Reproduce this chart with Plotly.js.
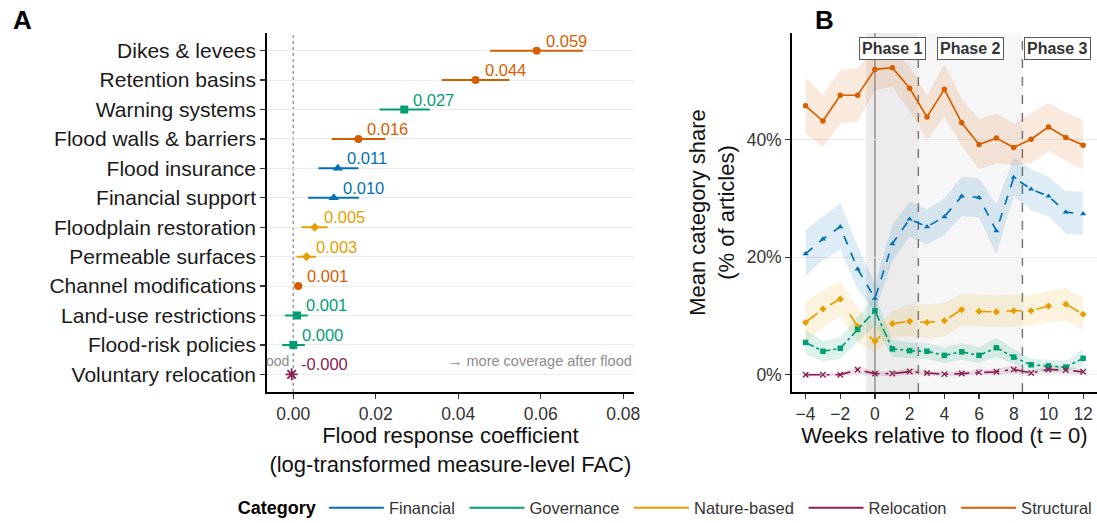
<!DOCTYPE html>
<html>
<head>
<meta charset="utf-8">
<script src="https://cdn.plot.ly/plotly-3.0.1.min.js"></script>
<style>html,body{margin:0;padding:0;background:#fff;} #chart{width:1097px;height:523px;}</style>
</head>
<body>
<div id="chart"></div>
<script>
// ---------- Panel A data ----------
const measures = ['Dikes & levees','Retention basins','Warning systems','Flood walls & barriers','Flood insurance','Financial support','Floodplain restoration','Permeable surfaces','Channel modifications','Land-use restrictions','Flood-risk policies','Voluntary relocation'];
const measureCategory = ['Structural','Structural','Governance','Structural','Financial','Financial','Nature-based','Nature-based','Structural','Governance','Governance','Relocation'];
const coef   = [0.0590,0.0442,0.0269,0.0158,0.0108,0.0098,0.0052,0.0032,0.0012,0.0009,0.0000,-0.0004];
const ciLow  = [0.0477,0.0360,0.0209,0.0093,0.0061,0.0036,0.0020,0.0008,0.0002,-0.0020,-0.0027,-0.0008];
const ciHigh = [0.0702,0.0524,0.0331,0.0223,0.0158,0.0159,0.0083,0.0055,0.0022,0.0035,0.0028,0.0000];
const xTicksA = [0, 0.02, 0.04, 0.06, 0.08];
const hintAfter = '→ more coverage after flood';
const hintBeforeVisible = 'ood';   // only the end of the left hint is visible inside the panel

// ---------- Panel B data ----------
const weeks = [-4,-3,-2,-1,0,1,2,3,4,5,6,7,8,9,10,11,12];
const structuralMean  = [45.8,43.2,47.6,47.6,52.0,52.3,48.8,43.9,48.6,42.9,39.2,40.3,38.7,40.1,42.2,40.4,39.1];
const structuralLow   = [41.1,38.7,42.8,43.1,48.5,49.0,45.0,40.0,44.0,39.0,35.0,36.0,35.7,36.0,38.0,36.5,34.9];
const structuralHigh  = [50.6,47.7,51.9,52.2,55.5,55.5,52.5,47.5,53.0,47.0,43.5,44.5,42.8,44.5,46.3,44.7,43.4];
const financialMean   = [20.6,23.1,25.2,18.0,13.0,22.3,26.5,25.2,26.9,30.4,30.2,24.5,33.6,31.6,30.4,27.7,27.4];
const financialLow    = [16.8,19.5,21.3,14.5,10.7,19.3,23.5,22.2,23.8,27.0,26.8,20.5,30.5,28.0,27.0,24.0,23.8];
const financialHigh   = [24.7,27.0,29.2,22.0,15.5,25.5,29.5,28.2,30.0,33.7,33.5,29.0,37.0,35.0,33.8,31.3,31.2];
const natureMean      = [8.9,11.2,12.9,8.2,5.7,8.7,9.1,8.9,9.2,11.1,10.8,10.7,10.9,10.9,11.7,12.0,10.3];
const natureLow       = [5.5,8.0,10.0,5.5,3.8,6.5,6.5,6.2,6.5,8.4,8.2,8.1,8.2,8.3,9.0,9.2,7.6];
const natureHigh      = [12.5,14.5,15.8,11.5,7.8,10.8,12.0,12.0,12.2,13.8,13.6,13.5,13.6,13.6,14.3,14.8,13.0];
const governanceMean  = [5.5,4.0,4.5,7.7,10.9,4.4,4.1,4.0,3.3,3.9,3.3,4.6,3.0,1.7,1.5,1.3,2.8];
const governanceLow   = [3.5,2.3,2.7,5.5,8.4,3.0,2.8,2.7,2.0,2.5,2.0,3.0,1.8,0.7,0.5,0.4,1.5];
const governanceHigh  = [7.6,5.8,6.4,10.0,13.4,5.9,5.5,5.4,4.7,5.4,4.7,6.3,4.4,2.8,2.6,2.3,4.4];
const relocationMean  = [0.0,0.0,0.0,0.85,0.2,0.2,0.55,0.3,0.1,0.2,0.4,0.5,0.9,0.3,0.9,0.8,0.5];
const relocationLow   = [-0.3,-0.3,-0.3,0.2,-0.2,-0.2,0.0,-0.1,-0.3,-0.2,0.0,0.0,0.2,-0.1,0.3,0.2,0.0];
const relocationHigh  = [0.3,0.3,0.3,1.5,0.6,0.6,1.1,0.7,0.5,0.6,0.8,1.0,1.6,0.7,1.5,1.4,1.0];
const yTicksB = [0, 20, 40];
const yTickLabelsB = ['0%', '20%', '40%'];
const xTicksB = [-4,-2,0,2,4,6,8,10,12];
const phaseNames = ['Phase 1','Phase 2','Phase 3'];
const phaseCenters = [1, 5.5, 10.5];

const categoryOrder = ['Financial','Governance','Nature-based','Relocation','Structural'];
const colors = {'Financial':'#0072B2','Governance':'#009E73','Nature-based':'#E69F00','Relocation':'#882255','Structural':'#D55E00'};
const symbolsA = {'Financial':'triangle-up','Governance':'square','Nature-based':'diamond','Relocation':'asterisk-open','Structural':'circle'};
const sizesA = {'Financial':9,'Governance':8,'Nature-based':7,'Relocation':10,'Structural':8};
const symbolsB = {'Financial':'triangle-up','Governance':'square','Nature-based':'diamond','Relocation':'x-thin-open','Structural':'circle'};
const dashes = {'Financial':'dash','Governance':'dashdot','Nature-based':'longdash','Relocation':'longdashdot','Structural':'solid'};
const series = {
  'Structural':[structuralMean,structuralLow,structuralHigh],
  'Financial':[financialMean,financialLow,financialHigh],
  'Nature-based':[natureMean,natureLow,natureHigh],
  'Governance':[governanceMean,governanceLow,governanceHigh],
  'Relocation':[relocationMean,relocationLow,relocationHigh]
};
const drawOrderB = ['Structural','Financial','Nature-based','Governance','Relocation'];

function hexA(hex,a){const r=parseInt(hex.slice(1,3),16),g=parseInt(hex.slice(3,5),16),b=parseInt(hex.slice(5,7),16);return `rgba(${r},${g},${b},${a})`;}

const FONT = 'Liberation Sans, Arial, sans-serif';
const nRows = measures.length;
const rowPos = measures.map((m,i)=>nRows - i);

const traces = [];
const annotations = [];

// Panel A: points with CIs by category
categoryOrder.forEach(cat=>{
  const idx = measures.map((m,i)=>i).filter(i=>measureCategory[i]===cat);
  traces.push({
    type:'scatter', mode:'markers', xaxis:'x', yaxis:'y', showlegend:false,
    x: idx.map(i=>coef[i]), y: idx.map(i=>rowPos[i]),
    marker:{color:colors[cat], symbol:symbolsA[cat], size:sizesA[cat], line:{color:colors[cat], width: cat==='Relocation'?1.8:0}},
    error_x:{type:'data', symmetric:false, array: idx.map(i=>ciHigh[i]-coef[i]), arrayminus: idx.map(i=>coef[i]-ciLow[i]), color:colors[cat], thickness:2, width:0},
    cliponaxis:false, hoverinfo:'skip'
  });
});
measures.forEach((m,i)=>{
  annotations.push({xref:'x', yref:'y', x:coef[i], y:rowPos[i], text:coef[i].toFixed(3), showarrow:false,
    xanchor:'left', yanchor:'middle', xshift:7, yshift:10, font:{family:FONT, size:16.5, color:colors[measureCategory[i]]}});
});
// direction hints
annotations.push({xref:'x domain', yref:'y', x:0, y:1.45, xanchor:'left', yanchor:'middle', showarrow:false, xshift:-3,
  text:hintBeforeVisible, font:{family:FONT, size:14, color:'#8c8c8c'}});
annotations.push({xref:'x domain', yref:'y', x:1, y:1.45, xanchor:'right', yanchor:'middle', showarrow:false,
  text:hintAfter, font:{family:FONT, size:14.5, color:'#8c8c8c'}});

// Panel B ribbons then lines
drawOrderB.forEach(cat=>{
  const [mean,lo,hi] = series[cat];
  traces.push({type:'scatter', mode:'lines', xaxis:'x2', yaxis:'y2', showlegend:false,
    x: weeks.concat(weeks.slice().reverse()), y: hi.concat(lo.slice().reverse()),
    fill:'toself', fillcolor:hexA(colors[cat],0.13), line:{width:0}, hoverinfo:'skip'});
});
drawOrderB.forEach(cat=>{
  const [mean] = series[cat];
  traces.push({type:'scatter', mode:'lines+markers', xaxis:'x2', yaxis:'y2', showlegend:false,
    x: weeks, y: mean, line:{color:colors[cat], width:1.7, dash:dashes[cat]},
    marker:{color:colors[cat], symbol:symbolsB[cat], size:5.5, line:{color:colors[cat], width: cat==='Relocation'?1.3:0}},
    cliponaxis:false});
});
// Legend entries
categoryOrder.forEach((cat,k)=>{
  traces.push({type:'scatter', mode:'lines', x:[null], y:[null], xaxis:'x2', yaxis:'y2',
    name: k < categoryOrder.length-1 ? cat+'\u00a0' : cat,
    line:{color:colors[cat], width:2}, showlegend:true, hoverinfo:'skip'});
});

// Phase labels
phaseNames.forEach((p,i)=>{
  annotations.push({xref:'x2', yref:'y2', x:phaseCenters[i], y:55.6, text:'<b>'+p+'</b>', showarrow:false,
    bgcolor:'#ffffff', bordercolor:'#5a5a5a', borderwidth:1, borderpad:2,
    font:{family:FONT, size:16, color:'#333333'}});
});
// Panel letters
annotations.push({xref:'paper', yref:'paper', x:0.010, y:0.995, xanchor:'left', yanchor:'top', showarrow:false, text:'<b>A</b>', font:{family:FONT, size:26, color:'#000'}});
annotations.push({xref:'paper', yref:'paper', x:0.741, y:0.995, xanchor:'left', yanchor:'top', showarrow:false, text:'<b>B</b>', font:{family:FONT, size:26, color:'#000'}});

const shapes = [
  {type:'line', xref:'x', yref:'y domain', x0:0, x1:0, y0:0, y1:1, line:{color:'#9a9a9a', width:1.5, dash:'dot'}, layer:'below'},
  {type:'rect', xref:'x2', yref:'y2 domain', x0:2.5, x1:8.5, y0:0, y1:1, fillcolor:'#f6f6f6', line:{width:0}, layer:'below'},
  {type:'rect', xref:'x2', yref:'y2 domain', x0:-0.5, x1:2.5, y0:0, y1:1, fillcolor:'#ececec', line:{width:0}, layer:'below'},
  {type:'line', xref:'x2', yref:'y2 domain', x0:0, x1:0, y0:0, y1:1, line:{color:'#666666', width:1}, layer:'below'},
  {type:'line', xref:'x2', yref:'y2 domain', x0:2.5, x1:2.5, y0:0, y1:1, line:{color:'#777777', width:1.5, dash:'dash'}, layer:'below'},
  {type:'line', xref:'x2', yref:'y2 domain', x0:8.5, x1:8.5, y0:0, y1:1, line:{color:'#777777', width:1.5, dash:'dash'}, layer:'below'}
];

const yDom = [1-392/523, 1-33/523];
const axisCommon = {showline:true, linecolor:'#000', linewidth:1.5, ticks:'outside', ticklen:5, tickcolor:'#333', tickwidth:1.2, zeroline:false};

const layout = {
  width:1097, height:523, margin:{l:0,r:0,t:0,b:0, autoexpand:false}, paper_bgcolor:'#fff', plot_bgcolor:'rgba(0,0,0,0)',
  font:{family:FONT, color:'#000'},
  xaxis:Object.assign({}, axisCommon, {domain:[266.7/1097, 634/1097], range:[-0.00645,0.0826], tickvals:xTicksA, tickformat:'.2f',
    showgrid:false, tickfont:{size:17.5,color:'#333'},
    title:{text:'Flood response coefficient<br>(log-transformed measure-level FAC)', font:{size:22,color:'#111'}, standoff:4}}),
  yaxis:Object.assign({}, axisCommon, {domain:yDom, range:[0.4, nRows+0.6], tickvals:rowPos, ticktext:measures,
    showgrid:true, gridcolor:'#ebebeb', gridwidth:1, tickfont:{size:21,color:'#1a1a1a'}}),
  xaxis2:Object.assign({}, axisCommon, {domain:[791.7/1097, 1], range:[-4.8,12.8], tickvals:xTicksB, anchor:'y2',
    showgrid:false, tickfont:{size:17.5,color:'#333'},
    title:{text:'Weeks relative to flood (t = 0)', font:{size:22,color:'#111'}, standoff:2}}),
  yaxis2:Object.assign({}, axisCommon, {domain:yDom, range:[-2.94,58.2], tickvals:yTicksB, ticktext:yTickLabelsB, anchor:'x2',
    showgrid:true, gridcolor:'#ebebeb', gridwidth:1, tickfont:{size:17.5,color:'#333'},
    title:{text:'Mean category share<br>(% of articles)', font:{size:22,color:'#111'}, standoff:6}}),
  showlegend:true,
  legend:{orientation:'h', x:0.215, xanchor:'left', y:1-508/523, yanchor:'middle',
    title:{text:'<b>Category</b>', side:'left', font:{size:18,color:'#000'}},
    font:{size:16.5,color:'#333'}, bgcolor:'rgba(0,0,0,0)', itemwidth:55, traceorder:'normal'},
  shapes:shapes, annotations:annotations, hovermode:false
};

Plotly.newPlot('chart', traces, layout, {staticPlot:true, displayModeBar:false});
</script>
</body>
</html>
